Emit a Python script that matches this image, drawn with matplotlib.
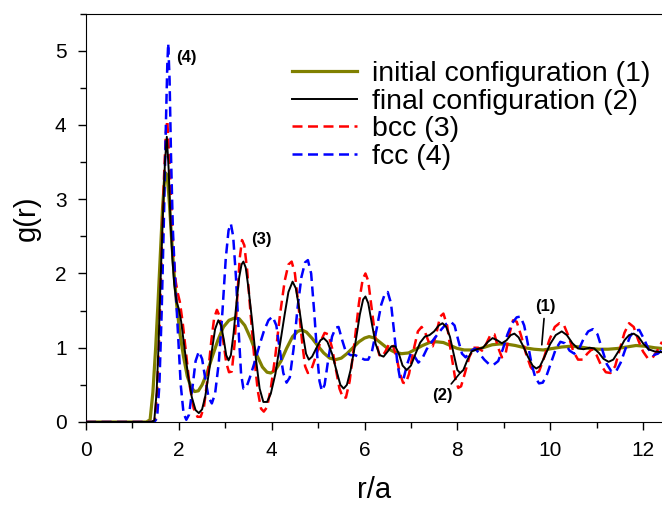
import matplotlib
matplotlib.use("Agg")
import matplotlib.pyplot as plt
from matplotlib.ticker import MultipleLocator

plt.rcParams['font.family'] = ['Liberation Sans', 'DejaVu Sans']

# initial configuration (1)
r_init = [0, 1.30, 1.38, 1.44, 1.50, 1.55, 1.60, 1.65, 1.69, 1.72, 1.75, 1.79, 1.84, 1.89, 1.95,
          2.02, 2.10, 2.18, 2.26, 2.34, 2.42, 2.50, 2.60, 2.72, 2.84, 2.96, 3.08, 3.20, 3.30, 3.42,
          3.55, 3.68, 3.80, 3.90, 3.98, 4.08, 4.20, 4.32, 4.45, 4.56, 4.65, 4.75, 4.88, 5.00, 5.12,
          5.25, 5.38, 5.50, 5.62, 5.75, 5.88, 6.00, 6.10, 6.22, 6.36, 6.50, 6.65, 6.80, 6.95, 7.10,
          7.25, 7.40, 7.55, 7.70, 7.85, 8.00, 8.15, 8.30, 8.45, 8.60, 8.75, 8.90, 9.05, 9.25, 9.45,
          9.65, 9.85, 10.05, 10.25, 10.45, 10.65, 10.85, 11.05, 11.25, 11.45, 11.65, 11.85, 12.05,
          12.25, 12.41]
g_init = [0, 0, 0.03, 0.4, 1.0, 1.6, 2.25, 2.9, 3.25, 3.35, 3.3, 3.0, 2.5, 2.05, 1.6,
          1.2, 0.88, 0.62, 0.47, 0.41, 0.42, 0.5, 0.65, 0.88, 1.1, 1.28, 1.37, 1.4, 1.39, 1.3,
          1.12, 0.9, 0.74, 0.67, 0.66, 0.7, 0.82, 0.99, 1.15, 1.22, 1.24, 1.21, 1.12, 1.02, 0.93,
          0.86, 0.84, 0.86, 0.92, 1.0, 1.08, 1.13, 1.15, 1.13, 1.06, 0.99, 0.94, 0.92, 0.93, 0.98,
          1.03, 1.07, 1.08, 1.07, 1.03, 0.99, 0.97, 0.97, 0.98, 1.01, 1.04, 1.05, 1.05, 1.03, 1.0,
          0.98, 0.97, 0.99, 1.01, 1.02, 1.01, 0.99, 0.98, 0.98, 0.99, 1.01, 1.03, 1.02,
          1.0, 0.99]

# final configuration (2)
r_final = [0, 1.40, 1.47, 1.52, 1.56, 1.60, 1.65, 1.70, 1.74, 1.78, 1.82, 1.86, 1.90, 1.95, 2.00,
           2.05, 2.12, 2.20, 2.28, 2.36, 2.43, 2.50, 2.57, 2.65, 2.72, 2.78, 2.85, 2.91, 2.97, 3.02,
           3.07, 3.12, 3.18, 3.24, 3.30, 3.35, 3.39, 3.44, 3.50, 3.58, 3.66, 3.74, 3.82, 3.90, 3.98,
           4.08, 4.18, 4.28, 4.36, 4.45, 4.52, 4.60, 4.68, 4.74, 4.80, 4.87, 4.95, 5.05, 5.12, 5.20,
           5.30, 5.40, 5.48, 5.55, 5.62, 5.70, 5.80, 5.90, 5.97, 6.02, 6.08, 6.16, 6.24, 6.33, 6.41,
           6.50, 6.58, 6.66, 6.74, 6.82, 6.91, 7.00, 7.10, 7.20, 7.30, 7.40, 7.50, 7.60, 7.68, 7.76,
           7.84, 7.92, 8.00, 8.06, 8.13, 8.22, 8.31, 8.42, 8.55, 8.66, 8.76, 8.86, 8.96, 9.06, 9.15,
           9.23, 9.32, 9.42, 9.52, 9.62, 9.70, 9.78, 9.88, 10.00, 10.12, 10.25, 10.36, 10.48, 10.60,
           10.72, 10.85, 10.95, 11.05, 11.15, 11.26, 11.36, 11.48, 11.60, 11.70, 11.80, 11.90, 12.00,
           12.12, 12.25, 12.41]
g_final = [0, 0, 0.02, 0.4, 1.0, 1.8, 2.7, 3.5, 3.84, 3.4, 2.7, 2.2, 1.85, 1.62, 1.52,
           1.35, 1.0, 0.62, 0.33, 0.16, 0.12, 0.17, 0.35, 0.68, 1.0, 1.25, 1.37, 1.3, 1.1, 0.9,
           0.83, 0.9, 1.2, 1.6, 1.95, 2.12, 2.16, 2.08, 1.8, 1.35, 0.85, 0.45, 0.27, 0.27, 0.38,
           0.65, 1.05, 1.45, 1.75, 1.89, 1.8, 1.5, 1.15, 0.92, 0.84, 0.88, 0.98, 1.1, 1.13, 1.08,
           0.92, 0.68, 0.5, 0.45, 0.5, 0.7, 1.05, 1.45, 1.65, 1.69, 1.6, 1.32, 1.05, 0.9, 0.88,
           0.95, 1.02, 1.02, 0.92, 0.76, 0.70, 0.76, 0.92, 1.07, 1.15, 1.17, 1.22, 1.30, 1.33, 1.28,
           1.15, 0.92, 0.7, 0.66, 0.7, 0.84, 0.95, 0.98, 1.0, 1.08, 1.13, 1.1, 1.06, 1.1, 1.17,
           1.19, 1.14, 1.02, 0.88, 0.76, 0.72, 0.75, 0.88, 1.05, 1.17, 1.22, 1.17, 1.06, 0.99,
           0.98, 1.0, 0.99, 0.93, 0.85, 0.81, 0.84, 0.96, 1.1, 1.17, 1.19, 1.15, 1.06,
           0.98, 0.95, 0.94]

# bcc (3)
r_bcc = [0, 1.42, 1.48, 1.53, 1.58, 1.63, 1.68, 1.72, 1.75, 1.79, 1.84, 1.88, 1.93, 1.97, 2.02,
         2.08, 2.15, 2.23, 2.32, 2.40, 2.47, 2.54, 2.62, 2.70, 2.76, 2.82, 2.88, 2.95, 3.02, 3.08,
         3.14, 3.20, 3.26, 3.31, 3.36, 3.41, 3.47, 3.54, 3.62, 3.70, 3.77, 3.83, 3.90, 3.98, 4.08,
         4.18, 4.28, 4.36, 4.43, 4.50, 4.58, 4.66, 4.72, 4.78, 4.85, 4.95, 5.05, 5.14, 5.22, 5.30,
         5.38, 5.46, 5.54, 5.60, 5.68, 5.78, 5.88, 5.96, 6.02, 6.08, 6.16, 6.24, 6.32, 6.38, 6.45,
         6.53, 6.60, 6.68, 6.76, 6.83, 6.89, 6.96, 7.05, 7.15, 7.23, 7.31, 7.40, 7.47, 7.55, 7.63,
         7.70, 7.78, 7.86, 7.95, 8.02, 8.08, 8.16, 8.26, 8.36, 8.45, 8.53, 8.62, 8.72, 8.80, 8.88,
         8.96, 9.04, 9.12, 9.20, 9.28, 9.38, 9.48, 9.58, 9.68, 9.76, 9.86, 9.98, 10.10, 10.20,
         10.30, 10.40, 10.50, 10.60, 10.70, 10.80, 10.90, 11.00, 11.10, 11.20, 11.30, 11.40, 11.50,
         11.60, 11.70, 11.80, 11.90, 12.00, 12.10, 12.20, 12.30, 12.41]
g_bcc = [0, 0, 0.02, 0.4, 1.2, 2.3, 3.3, 3.9, 4.06, 3.6, 2.9, 2.3, 1.9, 1.75, 1.62,
         1.35, 0.95, 0.5, 0.18, 0.07, 0.07, 0.2, 0.6, 1.1, 1.4, 1.51, 1.42, 1.12, 0.8, 0.67,
         0.68, 1.05, 1.7, 2.2, 2.45, 2.38, 2.05, 1.5, 0.9, 0.42, 0.18, 0.14, 0.2, 0.45, 0.9,
         1.45, 1.9, 2.12, 2.16, 2.0, 1.55, 1.05, 0.75, 0.66, 0.7, 0.88, 1.08, 1.2, 1.18, 1.0,
         0.72, 0.45, 0.32, 0.33, 0.55, 1.05, 1.6, 1.92, 2.0, 1.9, 1.5, 1.1, 0.9, 0.88, 0.95,
         1.05, 1.05, 0.9, 0.66, 0.53, 0.52, 0.65, 0.95, 1.22, 1.28, 1.2, 1.05, 1.02, 1.2, 1.42,
         1.46, 1.3, 0.95, 0.6, 0.46, 0.48, 0.65, 0.88, 1.0, 1.0, 0.96, 1.05, 1.18, 1.18, 1.0,
         0.87, 0.92, 1.18, 1.37, 1.35, 1.15, 0.92, 0.74, 0.66, 0.68, 0.85, 1.1, 1.28, 1.33,
         1.3, 1.15, 0.95, 0.84, 0.84, 0.92, 0.98, 0.9, 0.76, 0.67, 0.66, 0.75, 0.98,
         1.2, 1.33, 1.28, 1.1, 0.95, 0.86, 0.86, 0.95, 1.08]

# fcc (4)
r_fcc = [0, 1.47, 1.53, 1.58, 1.63, 1.68, 1.72, 1.75, 1.77, 1.80, 1.83, 1.87, 1.92, 1.98, 2.04,
         2.10, 2.16, 2.22, 2.29, 2.36, 2.43, 2.50, 2.57, 2.64, 2.71, 2.78, 2.86, 2.94, 3.01, 3.07,
         3.12, 3.17, 3.23, 3.29, 3.34, 3.39, 3.45, 3.53, 3.63, 3.73, 3.83, 3.93, 4.02, 4.10, 4.18,
         4.25, 4.32, 4.39, 4.47, 4.56, 4.64, 4.72, 4.78, 4.85, 4.92, 4.98, 5.03, 5.08, 5.14, 5.22,
         5.30, 5.38, 5.44, 5.52, 5.60, 5.70, 5.80, 5.90, 6.00, 6.08, 6.16, 6.26, 6.36, 6.44, 6.50,
         6.57, 6.64, 6.71, 6.77, 6.84, 6.92, 7.00, 7.08, 7.16, 7.24, 7.34, 7.45, 7.56, 7.66, 7.76,
         7.86, 7.94, 8.02, 8.10, 8.18, 8.28, 8.38, 8.48, 8.58, 8.68, 8.78, 8.88, 8.98, 9.08, 9.18,
         9.28, 9.36, 9.44, 9.52, 9.60, 9.68, 9.76, 9.84, 9.92, 10.02, 10.12, 10.22, 10.32, 10.42,
         10.52, 10.62, 10.72, 10.82, 10.92, 11.02, 11.12, 11.22, 11.32, 11.42, 11.52, 11.62, 11.72,
         11.82, 11.92, 12.02, 12.12, 12.22, 12.32, 12.41]
g_fcc = [0, 0, 0.05, 0.5, 1.5, 2.8, 4.0, 4.8, 5.10, 4.6, 3.6, 2.6, 1.9, 1.2, 0.5,
         0.12, 0.03, 0.1, 0.45, 0.82, 0.95, 0.85, 0.58, 0.33, 0.25, 0.38, 0.8, 1.5, 2.2, 2.58,
         2.67, 2.5, 1.95, 1.2, 0.65, 0.45, 0.46, 0.6, 0.8, 1.02, 1.22, 1.37, 1.42, 1.3, 0.95,
         0.66, 0.53, 0.6, 0.98, 1.55, 1.95, 2.15, 2.18, 2.0, 1.45, 0.9, 0.55, 0.42, 0.5, 0.85,
         1.15, 1.27, 1.28, 1.1, 0.94, 0.9, 0.9, 0.87, 0.84, 0.84, 0.95, 1.25, 1.58, 1.73, 1.75,
         1.6, 1.2, 0.78, 0.57, 0.58, 0.78, 0.93, 0.88, 0.8, 0.85, 0.98, 1.08, 1.17, 1.25, 1.32,
         1.35, 1.3, 1.1, 0.92, 0.87, 0.95, 0.99, 0.92, 0.84, 0.78, 0.77, 0.82, 0.98, 1.18, 1.33,
         1.41, 1.42, 1.3, 1.05, 0.78, 0.6, 0.52, 0.53, 0.62, 0.8, 0.98, 1.08, 1.06, 0.96,
         0.92, 0.98, 1.12, 1.22, 1.25, 1.18, 0.98, 0.78, 0.68, 0.68, 0.8, 0.98, 1.15,
         1.23, 1.24, 1.12, 0.98, 0.9, 0.92, 0.97]

labels = ["initial configuration (1)", "final configuration (2)", "bcc (3)", "fcc (4)"]

fig = plt.figure(figsize=(6.62, 5.08), dpi=100)
ax = fig.add_axes([0.13, 0.1693, 0.87, 0.804])

ax.plot(r_init, g_init, color="#808000", lw=2.3, label=labels[0], zorder=2)
ax.plot(r_final, g_final, color="black", lw=1.4, label=labels[1], zorder=4)
ax.plot(r_bcc, g_bcc, color="red", lw=1.8, ls=(0, (4, 2.2)), label=labels[2], zorder=3)
ax.plot(r_fcc, g_fcc, color="blue", lw=1.8, ls=(0, (4, 2.2)), label=labels[3], zorder=3)

ax.set_xlim(0, 12.41)
ax.set_ylim(0, 5.5)
ax.xaxis.set_major_locator(MultipleLocator(2))
ax.xaxis.set_minor_locator(MultipleLocator(1))
ax.yaxis.set_major_locator(MultipleLocator(1))
ax.yaxis.set_minor_locator(MultipleLocator(0.5))
ax.tick_params(which="both", direction="out", labelsize=15, width=1)
ax.tick_params(which="major", length=6, pad=8)
ax.tick_params(which="minor", length=4)
ax.spines["right"].set_visible(False)

ax.set_xlabel("r/a", fontsize=21, labelpad=11)
ax.set_ylabel("g(r)", fontsize=21, labelpad=10)

bold = dict(fontsize=12, fontweight="bold")
ax.text(1.94, 4.91, "(4)", ha="left", va="center", **bold)
ax.text(3.55, 2.46, "(3)", ha="left", va="center", **bold)
ax.annotate("(2)", xy=(8.06, 0.66), xytext=(7.67, 0.36), ha="center", va="center",
            arrowprops=dict(arrowstyle="-", lw=1.2, color="black", shrinkA=1, shrinkB=0), **bold)
ax.annotate("(1)", xy=(9.82, 1.04), xytext=(9.89, 1.55), ha="center", va="center",
            arrowprops=dict(arrowstyle="-", lw=1.2, color="black", shrinkA=1, shrinkB=0), **bold)

ax.legend(loc="upper left", bbox_to_anchor=(292 / 662, 1 - 61 / 508),
          bbox_transform=fig.transFigure, frameon=False, fontsize=20.5,
          handlelength=2.3, handletextpad=0.5, labelspacing=0.06,
          borderpad=0, borderaxespad=0)

fig.savefig("out.png", dpi=100)
